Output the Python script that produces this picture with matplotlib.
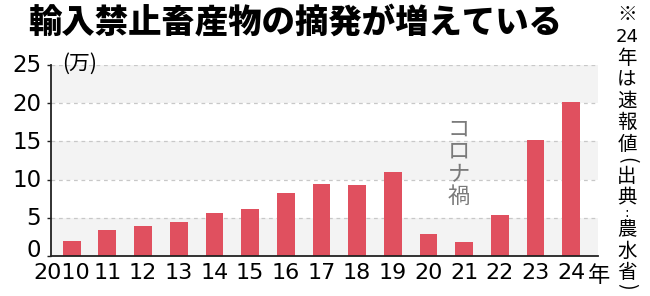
import matplotlib
matplotlib.use("Agg")
import matplotlib.pyplot as plt
import matplotlib.transforms as mtransforms

plt.rcParams['font.family'] = ['Noto Sans CJK JP', 'DejaVu Sans']

years = ["2010", "11", "12", "13", "14", "15", "16", "17", "18", "19",
         "20", "21", "22", "23", "24"]
values = [1.9, 3.4, 3.9, 4.45, 5.6, 6.2, 8.3, 9.4, 9.35, 10.95,
          2.85, 1.8, 5.35, 15.2, 20.2]
yticks = [0, 5, 10, 15, 20, 25]

title = "輸入禁止畜産物の摘発が増えている"
note_chars = ["※", "24", "年", "は", "速", "報", "値", "(", "出", "典", ":", "農", "水", "省", ")"]
note_y_px = [15, 37, 59, 80, 101, 122, 144, 160, 176, 197, 213, 230, 251, 272, 286]
covid_label = "コロナ禍"

bar_color = "#e0505f"
num_font = ['DejaVu Sans']

fig = plt.figure(figsize=(6.5, 2.96), dpi=100)
ax = fig.add_axes([51/650, 1-256/296, (598-51)/650, (256-65)/296])

x = list(range(len(years)))
ax.set_xlim(-0.58, len(years) - 1 + 0.75)
ax.set_ylim(0, 25)

# alternating background bands
for lo in (0, 10, 20):
    ax.axhspan(lo, lo + 5, color="#f3f3f3", zorder=0, lw=0)
for yv in yticks[1:]:
    ax.axhline(yv, color="#c8c8c8", lw=0.9, ls=(0, (3, 3)), zorder=1)

ax.bar(x, values, width=0.5, color=bar_color, zorder=2)

for s in ("top", "right"):
    ax.spines[s].set_visible(False)
for s in ("left", "bottom"):
    ax.spines[s].set_linewidth(1.3)
    ax.spines[s].set_color("#222222")

ax.set_yticks(yticks)
ax.set_yticklabels([str(v) for v in yticks], fontsize=16.5, family=num_font)
ax.set_xticks(x)
ax.set_xticklabels(years, fontsize=16, family=num_font)
ax.tick_params(axis='y', length=3, width=1, pad=4, color="#222222")
ax.tick_params(axis='x', length=0, pad=5)

# y labels sit slightly above their lines; the 0 label is raised more
for i, t in enumerate(ax.get_yticklabels()):
    dy = 8 if i == 0 else 1.5
    t.set_transform(t.get_transform() + mtransforms.ScaledTranslation(0, dy/100, fig.dpi_scale_trans))

# shift first x label slightly left as in reference
lbl = ax.get_xticklabels()[0]
lbl.set_transform(lbl.get_transform() + mtransforms.ScaledTranslation(-10/100, 0, fig.dpi_scale_trans))

fig.text(599/650, 1-275/296, "年", fontsize=16, ha='center', va='center')
fig.text(62/650, 1-64/296, "(万)", fontsize=15, ha='left', va='center')
fig.text(295/650, 1-22/296, title, fontsize=24, fontweight='heavy', ha='center', va='center')

ax.text(10.85, 12.2, "\n".join(covid_label), fontsize=16, color="#7a7a7a",
        ha='center', va='center', linespacing=0.98, zorder=3)

for ch, yp in zip(note_chars, note_y_px):
    rot = -90 if ch in "()" else 0
    fam = ['Noto Sans CJK JP', 'DejaVu Sans']
    fs = 14
    if ch == "24":
        fam, fs = num_font, 13
    elif ch == ":":
        fam, fs = num_font, 10
    fig.text(627/650, 1-yp/296, ch, fontsize=fs, family=fam, rotation=rot,
             ha='center', va='center')

fig.savefig("out.png", dpi=100)
